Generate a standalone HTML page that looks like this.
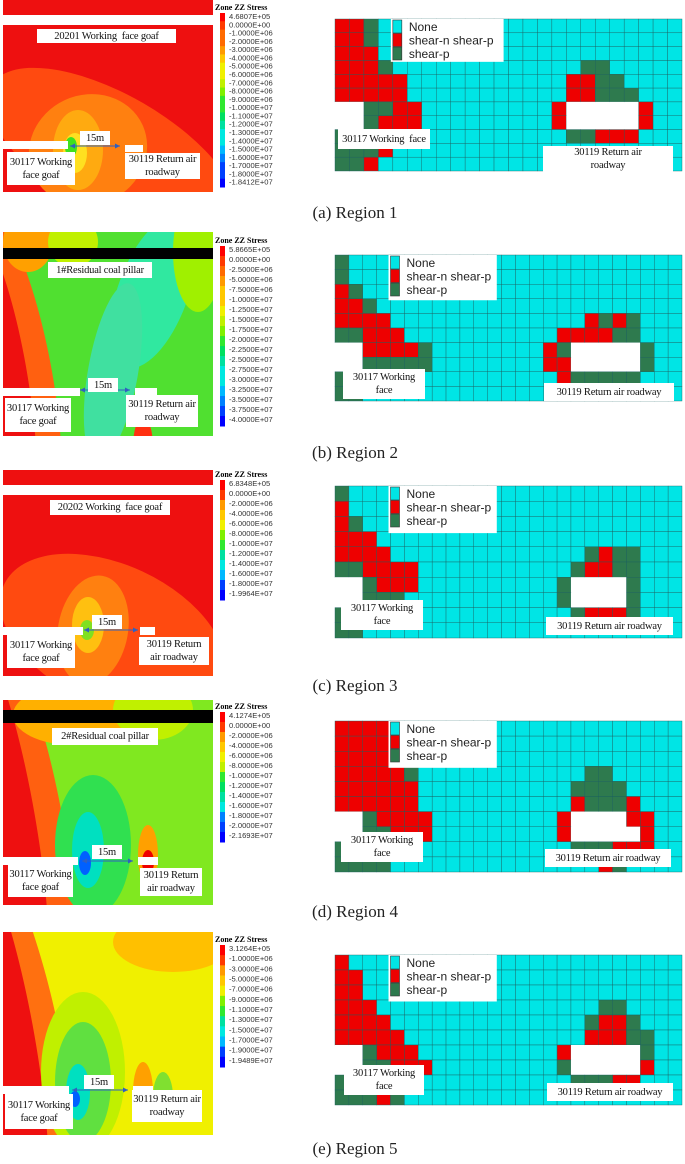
<!DOCTYPE html>
<html><head><meta charset="utf-8"><style>
html,body{margin:0;width:685px;height:1164px;overflow:hidden}
body{background:#fff;position:relative;font-family:"Liberation Serif",serif}
.cap{position:absolute;font-size:17px;line-height:20px;color:#222;width:660px;left:0;padding-left:25px;text-align:center}
.lbl{position:absolute;background:#fff;font-size:10.5px;line-height:13px;text-align:center;color:#111;white-space:nowrap;letter-spacing:-0.2px;overflow:hidden}
svg{position:absolute;left:0;top:0}
</style></head><body>
<svg id="s" width="685" height="1164"></svg>
<div class="cap" style="top:203px">(a) Region 1</div>
<div class="cap" style="top:443px">(b) Region 2</div>
<div class="cap" style="top:676px">(c) Region 3</div>
<div class="cap" style="top:902px">(d) Region 4</div>
<div class="cap" style="top:1139px">(e) Region 5</div>
<script>
const legend1=["4.6807E+05","0.0000E+00","-1.0000E+06","-2.0000E+06","-3.0000E+06","-4.0000E+06","-5.0000E+06","-6.0000E+06","-7.0000E+06","-8.0000E+06","-9.0000E+06","-1.0000E+07","-1.1000E+07","-1.2000E+07","-1.3000E+07","-1.4000E+07","-1.5000E+07","-1.6000E+07","-1.7000E+07","-1.8000E+07","-1.8412E+07"];
const legend2=["5.8665E+05","0.0000E+00","-2.5000E+06","-5.0000E+06","-7.5000E+06","-1.0000E+07","-1.2500E+07","-1.5000E+07","-1.7500E+07","-2.0000E+07","-2.2500E+07","-2.5000E+07","-2.7500E+07","-3.0000E+07","-3.2500E+07","-3.5000E+07","-3.7500E+07","-4.0000E+07"];
const legend3=["6.8348E+05","0.0000E+00","-2.0000E+06","-4.0000E+06","-6.0000E+06","-8.0000E+06","-1.0000E+07","-1.2000E+07","-1.4000E+07","-1.6000E+07","-1.8000E+07","-1.9964E+07"];
const legend4=["4.1274E+05","0.0000E+00","-2.0000E+06","-4.0000E+06","-6.0000E+06","-8.0000E+06","-1.0000E+07","-1.2000E+07","-1.4000E+07","-1.6000E+07","-1.8000E+07","-2.0000E+07","-2.1693E+07"];
const legend5=["3.1264E+05","-1.0000E+06","-3.0000E+06","-5.0000E+06","-7.0000E+06","-9.0000E+06","-1.1000E+07","-1.3000E+07","-1.5000E+07","-1.7000E+07","-1.9000E+07","-1.9489E+07"];
const grid1=["RRGCCCCCCCCCCCCCCCCCCCCC","RRGCCCCCCCCCCCCCCCCCCCCC","RRRCCCCCCCCCCCCCCCCCCCCC","RRRGCCCCCCCCCCCCCGGCCCCC","RRRRRCCCCCCCCCCCRRGGCCCC","RRRRRCCCCCCCCCCCRRGGGCCC","WWGGRRCCCCCCCCCRWWWWWRCC","WWGRRRCCCCCCCCCRWWWWWRCC","GGGGCCCCCCCCCCCCGGRRRCCC","GGGRCCCCCCCCCCCCCCCCCCCC","GGRCCCCCCCCCCCCCCCCCCCCC"];
const grid2=["GCCCCCCCCCCCCCCCCCCCCCCCC","GCCCCCCCCCCCCCCCCCCCCCCCC","RGCCCCCCCCCCCCCCCCCCCCCCC","RRGCCCCCCCCCCCCCCCCCCCCCC","RRRRCCCCCCCCCCCCCCRGRGCCC","GGRRRCCCCCCCCCCCRRRRGGCCC","WWRRRRGCCCCCCCCRGWWWWWGCC","WWGGGGGCCCCCCCCRRWWWWWGCC","GCCCCCCCCCCCCCCCRGGGGGCCC","GGCCCCCCCCCCCCCCCCCCCCCCC"];
const grid3=["GCCCCCCCCCCCCCCCCCCCCCCCC","RCCCCCCCCCCCCCCCCCCCCCCCC","RGCCCCCCCCCCCCCCCCCCCCCCC","RRRCCCCCCCCCCCCCCCCCCCCCC","RRRRCCCCCCCCCCCCCCGRGGCCC","GGRRRRCCCCCCCCCCCGRRGGCCC","WWGRRRCCCCCCCCCCGWWWWGCCC","WWGGGCCCCCCCCCCCGWWWWGCCC","GCCCCCCCCCCCCCCCCGRRRGCCC","GGCCCCCCCCCCCCCCCCCCCCCCC"];
const grid4=["RRRRCCCCCCCCCCCCCCCCCCCCC","RRRRGCCCCCCCCCCCCCCCCCCCC","RRRRRCCCCCCCCCCCCCCCCCCCC","RRRRRGCCCCCCCCCCCCGGCCCCC","RRRRRRCCCCCCCCCCCGGGGCCCC","RRRRRRCCCCCCCCCCCRGGGRCCC","WWGRRRRCCCCCCCCCRWWWWRRCC","WWGGRRRCCCCCCCCCRWWWWWRCC","GGGCCCCCCCCCCCCCCGGGRRRCC","GGGGCCCCCCCCCCCCCCCRGCCCC"];
const grid5=["RCCCCCCCCCCCCCCCCCCCCCCCC","RRCCCCCCCCCCCCCCCCCCCCCCC","RRCCCCCCCCCCCCCCCCCCCCCCC","RRRCCCCCCCCCCCCCCCCGGCCCC","RRRRCCCCCCCCCCCCCCGRRGCCC","RRRRRCCCCCCCCCCCCCRRRGGCC","WWGRRRCCCCCCCCCCRWWWWWGCC","WWGGRRRCCCCCCCCCGWWWWWRCC","GGCCCCCCCCCCCCCCCGGGRRCCC","GGGRGCCCCCCCCCCCCCCCCCCCC"];
const NS='http://www.w3.org/2000/svg', S=document.getElementById('s');
function el(t,a,p){const e=document.createElementNS(NS,t);for(const k in a)e.setAttribute(k,a[k]);(p||S).appendChild(e);return e}
const spectrum=['#ff0000','#ff3a00','#ff6a00','#ff9a00','#ffc800','#f0f000','#c0f000','#80f000','#30e830','#00e060','#00e0a0','#00e8e0','#00b8ff','#0080ff','#0040ff','#0000ff'];
function col(i,n){const t=i/(n-1)*(spectrum.length-1);return spectrum[Math.round(t)]}
function legend(labels,x,y,h){
  const g=el('g',{});
  
  
  const t=el('text',{x:x,y:y+7,'font-size':8,'font-weight':'bold','font-family':'Liberation Serif'},g);t.textContent='Zone ZZ Stress';
  const step=h/labels.length;
  labels.forEach((l,i)=>{
    const r=el('rect',{x:x+5,y:y+10+i*step,width:5,height:step+0.5,fill:col(i,labels.length)},g);
    
    
    const tx=el('text',{x:x+14,y:y+16+i*step,'font-size':7.6,'font-family':'Liberation Sans',fill:'#333'},g);tx.textContent=l;
  });
}
const CM={R:'#ee0000',G:'#2e7a4e',C:'#00e5e5',W:'#ffffff'};
function grid(p,x,y,w,h){
  const rows=p.length,cols=p[0].length,cw=w/cols,ch=h/rows;
  const g=el('g',{});
  
  
  p.forEach((row,r)=>{[...row].forEach((c,k)=>{
    const e=el('rect',{x:x+k*cw,y:y+r*ch,width:cw,height:ch,fill:CM[c],stroke:c=='W'?'none':'#1b6060','stroke-width':0.4},g);
    
    
  })});
  el('rect',{x:x+cw*4-2,y:y,width:cw*7.8,height:ch*3.1,fill:'#fff'},g);
  [['None','#00e5e5'],['shear-n shear-p','#ee0000'],['shear-p','#2e7a4e']].forEach((it,i)=>{
    el('rect',{x:x+cw*4,y:y+1+i*13.5,width:9,height:13,fill:it[1],stroke:'#333','stroke-width':0.6},g);
    const t=el('text',{x:x+cw*4+16,y:y+12+i*13.5,'font-size':12,'font-family':'Liberation Sans',fill:'#222'},g);t.textContent=it[0];
  });
}
function label(txt,x,y,w,h,name){
  const d=document.createElement('div');d.className='lbl';d.style.cssText=`left:${x}px;top:${y}px;width:${w}px;height:${h}px;display:flex;align-items:center;justify-content:center`;
  d.innerHTML=txt;document.body.appendChild(d);
}
function contour(x,y,w,h,bg,blobs){
  const id='c'+y;
  const cp=el('clipPath',{id:id});el('rect',{x:x,y:y,width:w,height:h},cp);
  const g=el('g',{'clip-path':`url(#${id})`});
  
  
  el('rect',{x:x,y:y,width:w,height:h,fill:bg},g);
  blobs.forEach(b=>el('ellipse',{cx:x+b[0],cy:y+b[1],rx:b[2],ry:b[3],transform:`rotate(${b[4]} ${x+b[0]} ${y+b[1]})`,fill:b[5]},g));
  return g;
}
function arrow(x1,x2,y){
  el('line',{x1:x1,y1:y,x2:x2,y2:y,stroke:'#3060c0','stroke-width':1});
  el('polygon',{points:`${x2},${y} ${x2-5},${y-2.5} ${x2-5},${y+2.5}`,fill:'#3060c0'});
  el('polygon',{points:`${x1},${y} ${x1+5},${y-2.5} ${x1+5},${y+2.5}`,fill:'#3060c0'});
}
// Region 1
el('rect',{x:3,y:0,width:210,height:15,fill:'#ee1010'});
contour(3,25,210,167,'#ee1010',[[110,130,140,60,30,'#ff4a10'],[85,125,55,60,65,'#ff8010'],[75,125,25,40,0,'#ffaa10'],[72,128,12,20,0,'#ffe020'],[68,122,6,10,0,'#40e020']]);
el('rect',{x:3,y:141,width:65,height:8,fill:'#fff'});el('rect',{x:125,y:145,width:18,height:7,fill:'#fff'});
arrow(70,120,146);
legend(legend1,215,3,174);grid(grid1,335,19,347,152);
label('20201 Working&nbsp; face goaf',37,29,139,14,'label-20201');
label('30117 Working<br>face goaf',7,152,68,33,'label-30117');
label('30119 Return air<br>roadway',125,153,75,26,'label-30119');
label('15m',80,131,30,14,'dist-label');
label('30117 Working&nbsp; face',338,129,92,20,'grid-label-30117');
label('30119 Return air<br>roadway',543,146,130,26,'grid-label-30119');
// Region 2
contour(3,232,210,204,'#50e030',[[-5,150,55,200,-10,'#ff6010'],[-20,170,48,200,-8,'#ee1010'],[25,10,25,30,0,'#ffa000'],[70,10,25,25,0,'#c0f000'],[150,60,35,80,20,'#30e8a0'],[110,140,25,90,10,'#40e0a0'],[140,215,10,30,0,'#ff3010'],[140,225,6,18,0,'#ee0000'],[195,20,25,60,0,'#a0f000']]);
el('rect',{x:3,y:248,width:210,height:11,fill:'#000'});
el('rect',{x:3,y:388,width:77,height:8,fill:'#fff'});el('rect',{x:135,y:388,width:22,height:8,fill:'#fff'});
arrow(80,130,390);
legend(legend2,215,236,180);grid(grid2,335,255,347,146);
label('1#Residual coal pillar',48,262,104,16,'label-pillar');
label('30117 Working<br>face goaf',5,398,66,34,'label-30117');
label('30119 Return air<br>roadway',126,395,72,32,'label-30119');
label('15m',88,378,30,14,'dist-label');
label('30117 Working<br>face',343,369,82,30,'grid-label-30117');
label('30119 Return air roadway',544,383,130,18,'grid-label-30119');
// Region 3
el('rect',{x:3,y:470,width:210,height:15,fill:'#ee1010'});
contour(3,495,210,181,'#ee1010',[[110,140,120,70,25,'#ff4a10'],[90,135,35,55,10,'#ff8010'],[85,130,16,28,0,'#ffc010'],[84,135,7,10,0,'#80e020']]);
el('rect',{x:3,y:627,width:80,height:8,fill:'#fff'});el('rect',{x:140,y:627,width:15,height:8,fill:'#fff'});
arrow(84,138,630);
legend(legend3,215,470,120);grid(grid3,335,486,347,152);
label('20202 Working&nbsp; face goaf',50,500,120,15,'label-20202');
label('30117 Working<br>face goaf',7,635,68,33,'label-30117');
label('30119 Return<br>air roadway',139,637,70,28,'label-30119');
label('15m',92,615,30,14,'dist-label');
label('30117 Working<br>face',341,600,82,30,'grid-label-30117');
label('30119 Return air roadway',546,617,127,18,'grid-label-30119');
// Region 4
contour(3,700,210,205,'#80e820',[[0,100,55,220,-12,'#ff6010'],[-10,120,42,220,-10,'#ee1010'],[70,15,60,30,0,'#ffb000'],[150,10,40,30,0,'#c0f000'],[90,145,38,70,0,'#30e050'],[85,150,16,38,0,'#00e0c0'],[82,163,6,12,0,'#0060ff'],[145,155,10,30,0,'#ffa000'],[145,162,6,12,0,'#ee0000']]);
el('rect',{x:3,y:710,width:210,height:13,fill:'#000'});
el('rect',{x:3,y:857,width:75,height:8,fill:'#fff'});el('rect',{x:138,y:857,width:20,height:8,fill:'#fff'});
arrow(82,133,861);
legend(legend4,215,702,130);grid(grid4,335,721,347,151);
label('2#Residual coal pillar',52,728,106,17,'label-pillar');
label('30117 Working<br>face goaf',8,864,65,33,'label-30117');
label('30119 Return<br>air roadway',140,868,62,28,'label-30119');
label('15m',92,845,30,14,'dist-label');
label('30117 Working<br>face',341,832,82,30,'grid-label-30117');
label('30119 Return air roadway',545,849,126,18,'grid-label-30119');
// Region 5
contour(3,932,210,203,'#f0f000',[[0,100,55,220,-12,'#ff7010'],[-10,110,42,220,-10,'#ee1010'],[170,10,60,30,0,'#ffc000'],[80,140,42,80,0,'#c0f000'],[80,150,28,60,0,'#60e040'],[75,160,12,28,0,'#00e0c0'],[72,167,5,8,0,'#0060ff'],[140,160,10,30,0,'#ffa000'],[140,166,6,12,0,'#ee0000'],[160,165,10,25,0,'#80e030']]);
el('rect',{x:3,y:1086,width:66,height:8,fill:'#fff'});el('rect',{x:133,y:1086,width:20,height:8,fill:'#fff'});
arrow(72,128,1090);
legend(legend5,215,935,122);grid(grid5,335,955,347,150);
label('30117 Working<br>face goaf',5,1094,68,35,'label-30117');
label('30119 Return air<br>roadway',132,1090,70,32,'label-30119');
label('15m',84,1075,30,14,'dist-label');
label('30117 Working<br>face',344,1065,80,30,'grid-label-30117');
label('30119 Return air roadway',547,1083,126,18,'grid-label-30119');
</script>
</body></html>
